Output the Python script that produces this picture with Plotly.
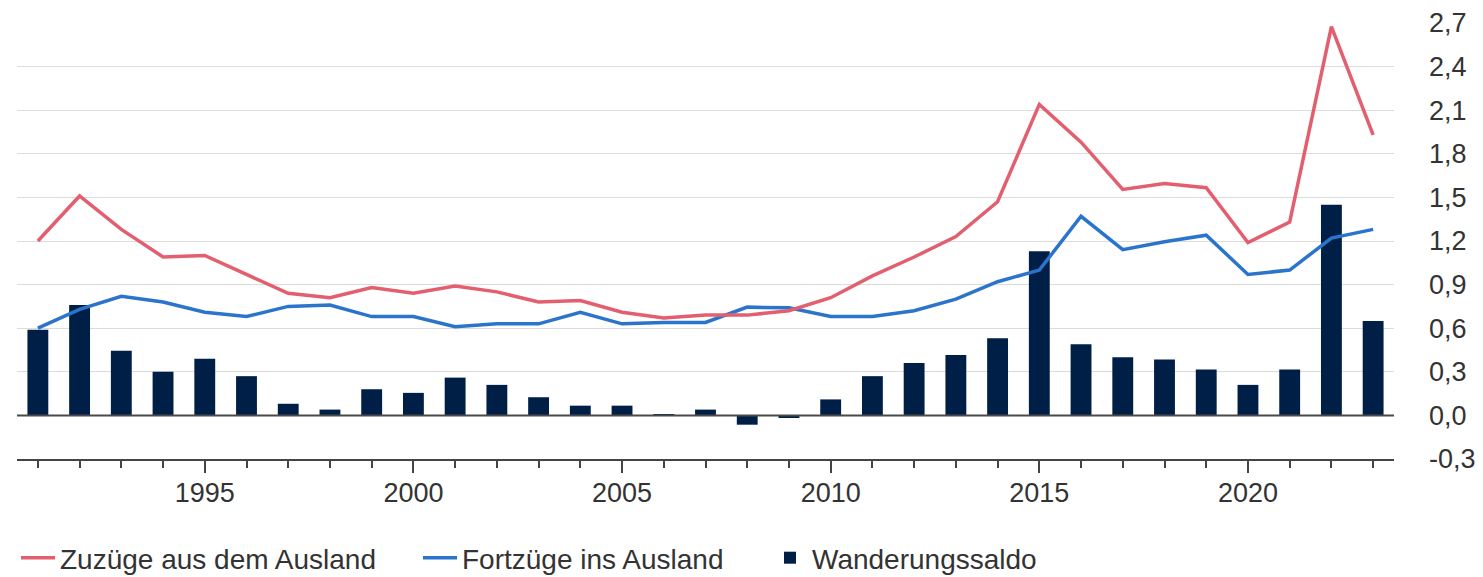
import plotly.graph_objects as go

years = list(range(1991, 2024))
zuzuege = [1.20, 1.51, 1.28, 1.09, 1.10, 0.97, 0.84, 0.81, 0.88, 0.84, 0.89,
           0.85, 0.78, 0.79, 0.71, 0.67, 0.69, 0.69, 0.72, 0.81, 0.96,
           1.09, 1.23, 1.47, 2.14, 1.88, 1.555, 1.595, 1.567, 1.19, 1.33,
           2.675, 1.93]
fortzuege = [0.60, 0.73, 0.82, 0.78, 0.71, 0.68, 0.75, 0.76, 0.68, 0.68, 0.61,
             0.63, 0.63, 0.71, 0.63, 0.64, 0.64, 0.745, 0.74, 0.68, 0.68,
             0.72, 0.80, 0.92, 1.00, 1.37, 1.14, 1.195, 1.24, 0.97, 1.00,
             1.22, 1.28]
saldo = [0.59, 0.76, 0.445, 0.30, 0.39, 0.27, 0.08, 0.04, 0.18, 0.155, 0.26,
         0.21, 0.125, 0.067, 0.067, 0.003, 0.04, -0.064, -0.018, 0.11, 0.27,
         0.36, 0.415, 0.53, 1.13, 0.49, 0.40, 0.385, 0.315, 0.21, 0.315,
         1.45, 0.65]
y_ticks = [-0.3, 0.0, 0.3, 0.6, 0.9, 1.2, 1.5, 1.8, 2.1, 2.4, 2.7]
y_ticktext = ["-0,3", "0,0", "0,3", "0,6", "0,9", "1,2", "1,5", "1,8", "2,1", "2,4", "2,7"]
x_ticks = [1995, 2000, 2005, 2010, 2015, 2020]

RED = "#e35f6f"
BLUE = "#2b74cc"
NAVY = "#001f47"
TXT = "#333333"
FONT = "Arial, Liberation Sans, sans-serif"

W, H = 1483, 577

fig = go.Figure()
fig.add_trace(go.Bar(x=years, y=saldo, name="Wanderungssaldo", marker_color=NAVY,
                     marker_line_width=0, width=0.5, legend="legend3"))
fig.add_trace(go.Scatter(x=years, y=fortzuege, name="Fortzüge ins Ausland", mode="lines",
                         line=dict(color=BLUE, width=3.5), legend="legend2"))
fig.add_trace(go.Scatter(x=years, y=zuzuege, name="Zuzüge aus dem Ausland", mode="lines",
                         line=dict(color=RED, width=3.5), legend="legend"))

# zero line drawn above bars
fig.add_hline(y=0, line=dict(color="#4a4a4a", width=2), layer="above")

def leg(xpx):
    return dict(orientation="h", xref="container", yref="container",
                x=xpx / W, y=1 - 558 / H, xanchor="left", yanchor="middle",
                itemwidth=34,
                font=dict(size=28, color=TXT, family=FONT), bgcolor="rgba(0,0,0,0)")

fig.update_layout(
    width=W, height=H,
    autosize=False,
    margin=dict(l=17, r=W - 1394, t=23, b=H - 459, autoexpand=False),
    paper_bgcolor="white", plot_bgcolor="white",
    separators=",.",
    font=dict(family=FONT, size=27, color=TXT),
    showlegend=True,
    legend=leg(16),
    legend2=leg(418),
    legend3=leg(768),
    bargap=0.5,
    xaxis=dict(range=[1990.5, 2023.5], tickvals=x_ticks, ticktext=[str(v) for v in x_ticks],
               ticks="outside", ticklen=12, tickwidth=2, tickcolor="#444444",
               showline=True, linecolor="#444444", linewidth=2,
               showgrid=False, zeroline=False, automargin=False,
               minor=dict(dtick=1, tick0=1991, ticks="outside", ticklen=7,
                          tickwidth=1.5, tickcolor="#444444", showgrid=False),
               ticklabelstandoff=-3,
               tickfont=dict(size=27, color=TXT, family=FONT)),
    yaxis=dict(range=[-0.3, 2.7], side="right", tickvals=y_ticks, ticktext=y_ticktext,
               showgrid=True, gridcolor="#dcdcdc", gridwidth=1,
               zeroline=False, showline=False, ticks="", automargin=False,
               ticklabelstandoff=34,
               tickfont=dict(size=27, color=TXT, family=FONT)),
)

fig.write_html("out.html", config={"displayModeBar": False},
               post_script="document.body.style.margin='0';document.body.style.padding='0';")
